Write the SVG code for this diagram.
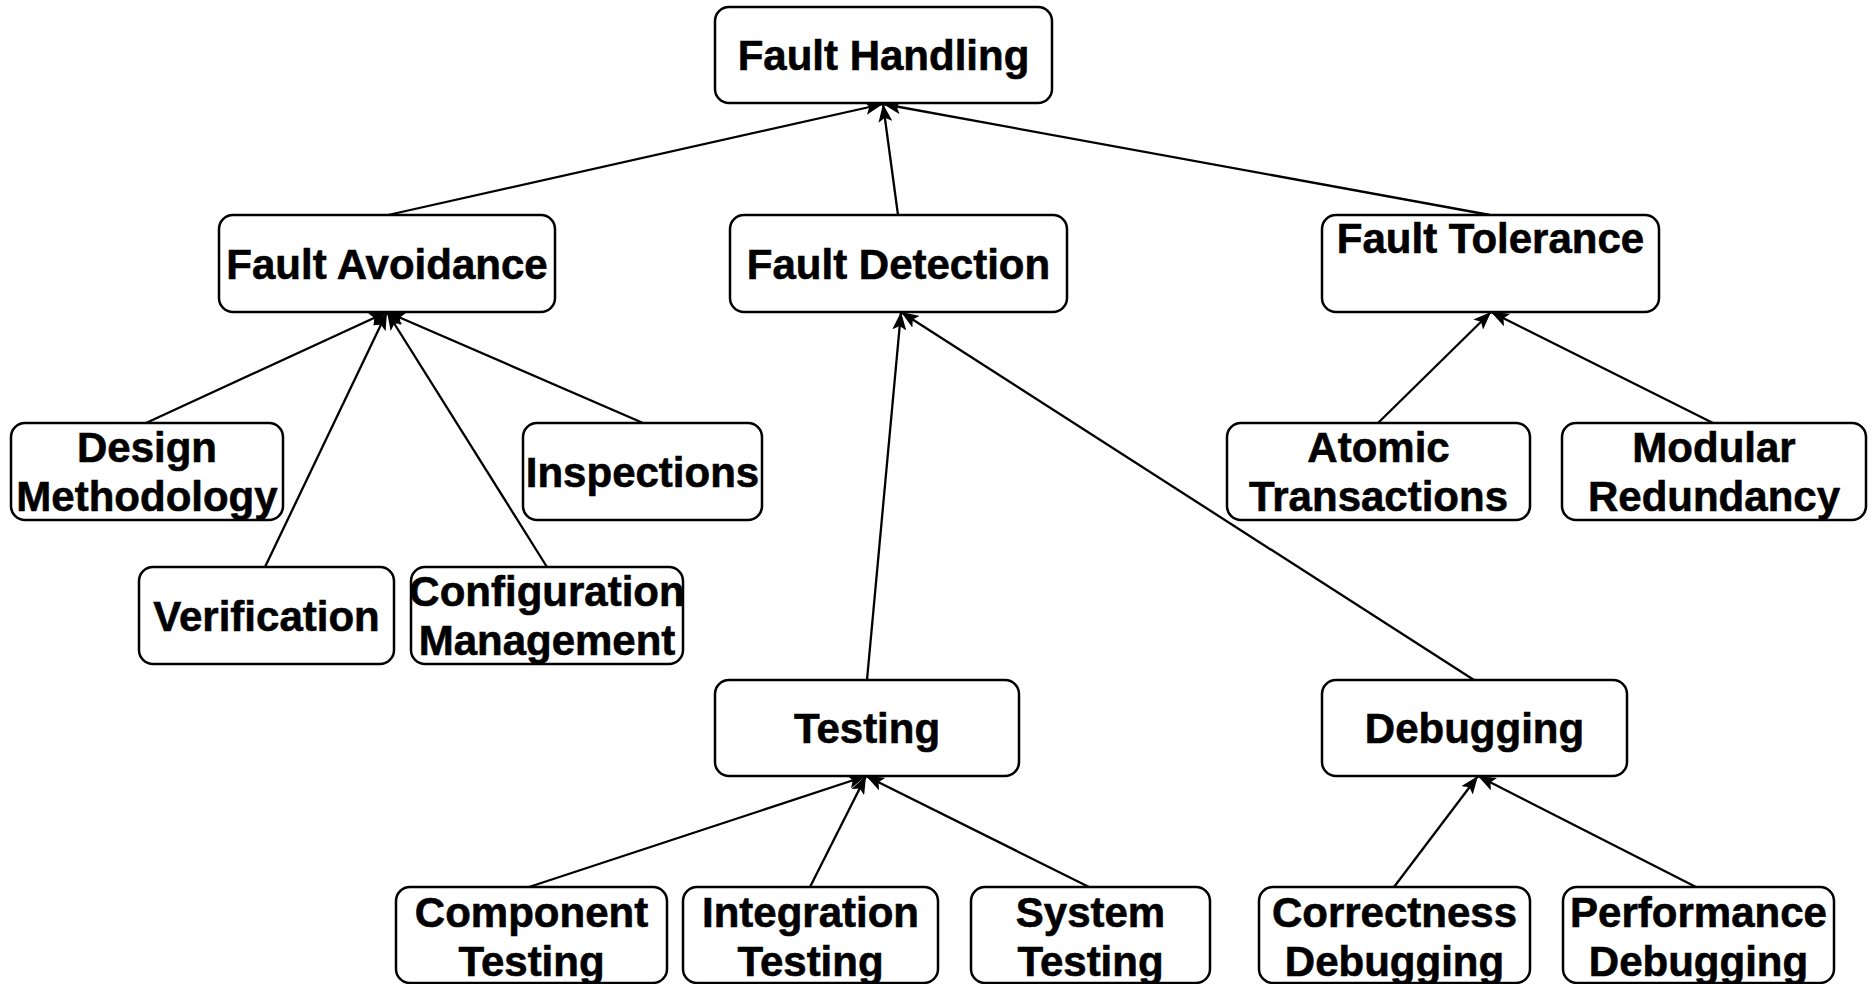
<svg xmlns="http://www.w3.org/2000/svg" width="1873" height="984" viewBox="0 0 1873 984">
  <style>
    .box { fill: #ffffff; stroke: #000000; stroke-width: 2.5; }
    .lbl { font-family: "Liberation Sans", Arial, Helvetica, sans-serif; font-weight: bold; font-size: 42px; fill: #000000; stroke: #000000; stroke-width: 0.6; text-anchor: middle; }
    .edge { fill: none; stroke: #000000; stroke-width: 2.3; marker-end: url(#arrow); }
  </style>
  <defs>
    <marker id="arrow" viewBox="0 0 18 14" markerWidth="18" markerHeight="14" refX="18" refY="7" orient="auto" markerUnits="userSpaceOnUse">
      <path d="M0,0 L18,7 L0,14 L4,7 z" fill="#000000"/>
    </marker>
  </defs>
  <rect width="1873" height="984" fill="#ffffff"/>

  <!-- connectors: child -> parent -->
  <g id="connectors">
    <line class="edge" x1="388" y1="215" x2="883" y2="104"/>
    <line class="edge" x1="898" y1="215" x2="883" y2="104"/>
    <line class="edge" x1="1490" y1="215" x2="883" y2="104"/>
    <line class="edge" x1="146" y1="423" x2="387" y2="312"/>
    <line class="edge" x1="265" y1="567" x2="387" y2="312"/>
    <line class="edge" x1="547" y1="567" x2="387" y2="312"/>
    <line class="edge" x1="643" y1="423" x2="387" y2="312"/>
    <line class="edge" x1="867" y1="680" x2="901" y2="312"/>
    <line class="edge" x1="1474" y1="680" x2="901" y2="312"/>
    <line class="edge" x1="1378" y1="423" x2="1491" y2="312"/>
    <line class="edge" x1="1713" y1="423" x2="1491" y2="312"/>
    <line class="edge" x1="529" y1="887" x2="866" y2="776"/>
    <line class="edge" x1="810" y1="887" x2="866" y2="776"/>
    <line class="edge" x1="1089" y1="887" x2="866" y2="776"/>
    <line class="edge" x1="1394" y1="887" x2="1478" y2="776"/>
    <line class="edge" x1="1696" y1="887" x2="1478" y2="776"/>
  </g>

  <g id="fault-handling">
    <rect class="box" x="715" y="7" width="337" height="96" rx="14"/>
    <text class="lbl" x="883.5" y="70">Fault Handling</text>
  </g>

  <g id="fault-avoidance">
    <rect class="box" x="219" y="215" width="336" height="97" rx="14"/>
    <text class="lbl" x="387" y="279">Fault Avoidance</text>
  </g>
  <g id="fault-detection">
    <rect class="box" x="730" y="215" width="337" height="97" rx="14"/>
    <text class="lbl" x="898.5" y="279">Fault Detection</text>
  </g>
  <g id="fault-tolerance">
    <rect class="box" x="1322" y="215" width="337" height="97" rx="14"/>
    <text class="lbl" x="1490.5" y="253">Fault Tolerance</text>
  </g>

  <g id="design-methodology">
    <rect class="box" x="11" y="423" width="272" height="97" rx="14"/>
    <text class="lbl" x="147" y="462">Design</text>
    <text class="lbl" x="147" y="511">Methodology</text>
  </g>
  <g id="inspections">
    <rect class="box" x="523" y="423" width="239" height="97" rx="14"/>
    <text class="lbl" x="642.5" y="487">Inspections</text>
  </g>
  <g id="verification">
    <rect class="box" x="139" y="567" width="255" height="97" rx="14"/>
    <text class="lbl" x="266.5" y="631">Verification</text>
  </g>
  <g id="configuration-management">
    <rect class="box" x="411" y="567" width="272" height="97" rx="14"/>
    <text class="lbl" x="547" y="606">Configuration</text>
    <text class="lbl" x="547" y="655">Management</text>
  </g>

  <g id="atomic-transactions">
    <rect class="box" x="1227" y="423" width="303" height="97" rx="14"/>
    <text class="lbl" x="1378.5" y="462">Atomic</text>
    <text class="lbl" x="1378.5" y="511">Transactions</text>
  </g>
  <g id="modular-redundancy">
    <rect class="box" x="1562" y="423" width="304" height="97" rx="14"/>
    <text class="lbl" x="1714" y="462">Modular</text>
    <text class="lbl" x="1714" y="511">Redundancy</text>
  </g>

  <g id="testing">
    <rect class="box" x="715" y="680" width="304" height="96" rx="14"/>
    <text class="lbl" x="867" y="743">Testing</text>
  </g>
  <g id="debugging">
    <rect class="box" x="1322" y="680" width="305" height="96" rx="14"/>
    <text class="lbl" x="1474.5" y="743">Debugging</text>
  </g>

  <g id="component-testing">
    <rect class="box" x="396" y="887" width="271" height="96" rx="14"/>
    <text class="lbl" x="531.5" y="927">Component</text>
    <text class="lbl" x="531.5" y="976">Testing</text>
  </g>
  <g id="integration-testing">
    <rect class="box" x="683" y="887" width="255" height="96" rx="14"/>
    <text class="lbl" x="810.5" y="927">Integration</text>
    <text class="lbl" x="810.5" y="976">Testing</text>
  </g>
  <g id="system-testing">
    <rect class="box" x="971" y="887" width="239" height="96" rx="14"/>
    <text class="lbl" x="1090.5" y="927">System</text>
    <text class="lbl" x="1090.5" y="976">Testing</text>
  </g>
  <g id="correctness-debugging">
    <rect class="box" x="1259" y="887" width="271" height="96" rx="14"/>
    <text class="lbl" x="1394.5" y="927">Correctness</text>
    <text class="lbl" x="1394.5" y="976">Debugging</text>
  </g>
  <g id="performance-debugging">
    <rect class="box" x="1563" y="887" width="271" height="96" rx="14"/>
    <text class="lbl" x="1698.5" y="927">Performance</text>
    <text class="lbl" x="1698.5" y="976">Debugging</text>
  </g>
</svg>
